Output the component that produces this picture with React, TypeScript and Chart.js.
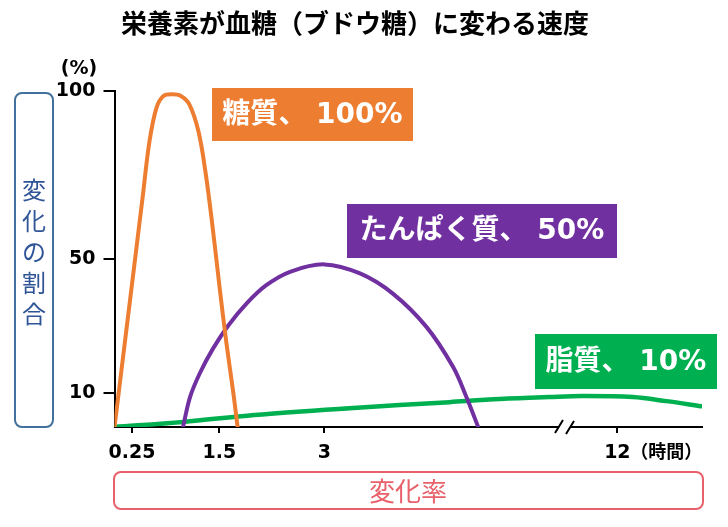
import React, { useEffect, useRef } from 'react';
import { Chart, registerables } from 'chart.js';

Chart.register(...registerables);

// ---- data ----
const TITLE = '栄養素が血糖（ブドウ糖）に変わる速度';
const Y_TITLE = '変化の割合';
const X_TITLE = '変化率';
const X_UNIT = '（時間）';
const Y_UNIT = '(%)';

// positions along the (broken) time axis, and their labels
const X_TICK_POS = [0.25, 1.5, 3, 7.19];
const X_TICK_LABELS = ['0.25', '1.5', '3', '12'];
const Y_TICKS = [10, 50, 100];

const SUGAR_X = [0, 0.1, 0.2, 0.3, 0.4, 0.5, 0.6, 0.7, 0.82, 0.95, 1.07, 1.2, 1.3, 1.4, 1.5, 1.6, 1.7, 1.76];
const SUGAR_Y = [0, 17, 34, 51, 68, 85, 95, 98.5, 99, 98.5, 96, 88, 76, 60, 42, 25, 10, 0];

const PROTEIN_X = [0.98, 1.08, 1.22, 1.41, 1.63, 1.89, 2.17, 2.51, 3.0, 3.51, 3.98, 4.46, 4.84, 5.03, 5.2];
const PROTEIN_Y = [0, 8.9, 16, 23.4, 30.3, 36.8, 42.2, 46.2, 48.4, 45.7, 39.7, 29.8, 17.9, 9, 0];

const FAT_X = [0, 0.98, 2.0, 3.36, 4.79, 5.51, 6.22, 6.69, 7.41, 7.89, 8.39];
const FAT_Y = [0, 1.5, 3.6, 5.6, 7.4, 8.3, 8.9, 9.2, 8.9, 7.7, 6.2];

const SERIES_NAMES = ['糖質', 'たんぱく質', '脂質'];
const SERIES_LABELS = ['糖質、 100%', 'たんぱく質、 50%', '脂質、 10%'];

const ORANGE = '#ED7D31';
const PURPLE = '#7030A0';
const GREEN = '#00B050';
const BLUE = '#41719C';
const RED = '#E8616A';

const FONT = '"DejaVu Sans", "Noto Sans CJK JP", sans-serif';
const CJK = '"Noto Sans CJK JP", "DejaVu Sans", sans-serif';

function zip(xs: number[], ys: number[]) {
  return xs.map((x, i) => ({ x, y: ys[i] }));
}

function roundRect(ctx: CanvasRenderingContext2D, x: number, y: number, w: number, h: number, r: number) {
  ctx.beginPath();
  ctx.moveTo(x + r, y);
  ctx.lineTo(x + w - r, y);
  ctx.arcTo(x + w, y, x + w, y + r, r);
  ctx.lineTo(x + w, y + h - r);
  ctx.arcTo(x + w, y + h, x + w - r, y + h, r);
  ctx.lineTo(x + r, y + h);
  ctx.arcTo(x, y + h, x, y + h - r, r);
  ctx.lineTo(x, y + r);
  ctx.arcTo(x, y, x + r, y, r);
  ctx.closePath();
}

const overlay = {
  id: 'overlay',
  afterDraw(chart: any) {
    const ctx: CanvasRenderingContext2D = chart.ctx;
    ctx.save();

    // title
    ctx.fillStyle = '#000';
    ctx.font = `bold 26px ${CJK}`;
    ctx.textAlign = 'center';
    ctx.textBaseline = 'middle';
    ctx.fillText(TITLE, 355, 23);

    // (%)
    ctx.font = `bold 19px ${FONT}`;
    ctx.fillText(Y_UNIT, 79, 69);

    // y title box
    ctx.lineWidth = 2;
    ctx.strokeStyle = BLUE;
    roundRect(ctx, 15, 93, 38, 334, 7);
    ctx.stroke();
    ctx.fillStyle = '#2F5597';
    ctx.font = `24px ${CJK}`;
    Array.from(Y_TITLE).forEach((ch, i) => {
      ctx.fillText(ch, 34, 190 + i * 31);
    });

    // x title box
    ctx.strokeStyle = RED;
    roundRect(ctx, 114, 472, 589, 37, 7);
    ctx.stroke();
    ctx.fillStyle = RED;
    ctx.font = `26px ${CJK}`;
    ctx.fillText(X_TITLE, 408, 491);

    // series label boxes
    const boxes = [
      { x: 212, y: 88, w: 201, h: 53, c: ORANGE },
      { x: 347, y: 204, w: 270, h: 54, c: PURPLE },
      { x: 535, y: 334, w: 182, h: 55, c: GREEN },
    ];
    boxes.forEach((b, i) => {
      ctx.fillStyle = b.c;
      ctx.fillRect(b.x, b.y, b.w, b.h);
      ctx.fillStyle = '#fff';
      ctx.font = `bold 28px ${FONT}`;
      ctx.fillText(SERIES_LABELS[i], b.x + b.w / 2, b.y + b.h / 2 + 1);
    });

    // axis break
    const bx = chart.scales.x;
    const by = chart.chartArea.bottom;
    ctx.fillStyle = '#fff';
    ctx.fillRect(559, by - 3, 11, 6);
    ctx.strokeStyle = '#000';
    ctx.lineWidth = 2;
    ctx.beginPath();
    ctx.moveTo(555, by + 6);
    ctx.lineTo(563, by - 7);
    ctx.moveTo(566, by + 7);
    ctx.lineTo(574, by - 6);
    ctx.stroke();

    // unit after "12"
    const x12 = bx.getPixelForValue(X_TICK_POS[3]);
    ctx.fillStyle = '#000';
    ctx.textAlign = 'left';
    ctx.font = `bold 18px ${CJK}`;
    ctx.fillText(X_UNIT, x12 + 13, 451);

    ctx.restore();
  },
};

export default function App() {
  const ref = useRef<HTMLCanvasElement>(null);
  useEffect(() => {
    if (!ref.current) return;
    const chart = new Chart(ref.current, {
      type: 'line',
      data: {
        datasets: [
          { label: SERIES_NAMES[0], data: zip(SUGAR_X, SUGAR_Y), borderColor: ORANGE, borderWidth: 4 },
          { label: SERIES_NAMES[1], data: zip(PROTEIN_X, PROTEIN_Y), borderColor: PURPLE, borderWidth: 4 },
          { label: SERIES_NAMES[2], data: zip(FAT_X, FAT_Y), borderColor: GREEN, borderWidth: 4.5 },
        ],
      },
      options: {
        responsive: false,
        animation: false,
        devicePixelRatio: 1,
        elements: {
          point: { radius: 0 },
          line: { tension: 0.35, fill: false, borderCapStyle: 'round', borderJoinStyle: 'round' },
        },
        layout: { padding: { top: 91, right: 26, bottom: 0, left: 0 } },
        plugins: { legend: { display: false }, tooltip: { enabled: false }, title: { display: false } },
        scales: {
          x: {
            type: 'linear',
            min: 0,
            max: 8.4,
            afterBuildTicks: (s: any) => {
              s.ticks = X_TICK_POS.map((v) => ({ value: v }));
            },
            afterFit: (s: any) => {
              s.height = 100;
            },
            border: { display: true, color: '#000', width: 2 },
            grid: { display: true, drawOnChartArea: false, drawTicks: true, tickLength: 6, color: '#000', lineWidth: 2 },
            ticks: {
              autoSkip: false,
              maxRotation: 0,
              padding: 9,
              color: '#000',
              font: { family: FONT, size: 19, weight: 'bold' },
              callback: (v: any) => {
                const i = X_TICK_POS.indexOf(Number(v));
                return i >= 0 ? X_TICK_LABELS[i] : '';
              },
            },
          },
          y: {
            type: 'linear',
            min: 0,
            max: 100,
            afterBuildTicks: (s: any) => {
              s.ticks = Y_TICKS.map((v) => ({ value: v }));
            },
            afterFit: (s: any) => {
              s.width = 114.5;
            },
            border: { display: true, color: '#000', width: 2 },
            grid: { display: true, drawOnChartArea: false, drawTicks: true, tickLength: 11, color: '#000', lineWidth: 2 },
            ticks: {
              padding: 8,
              color: '#000',
              font: { family: FONT, size: 19, weight: 'bold' },
            },
          },
        },
      },
      plugins: [overlay],
    } as any);
    return () => chart.destroy();
  }, []);
  return (
    <div style={{ position: 'fixed', left: 0, top: 0, width: 728, height: 527, background: '#fff' }}>
      <canvas ref={ref} width={728} height={527} style={{ display: 'block' }} />
    </div>
  );
}
